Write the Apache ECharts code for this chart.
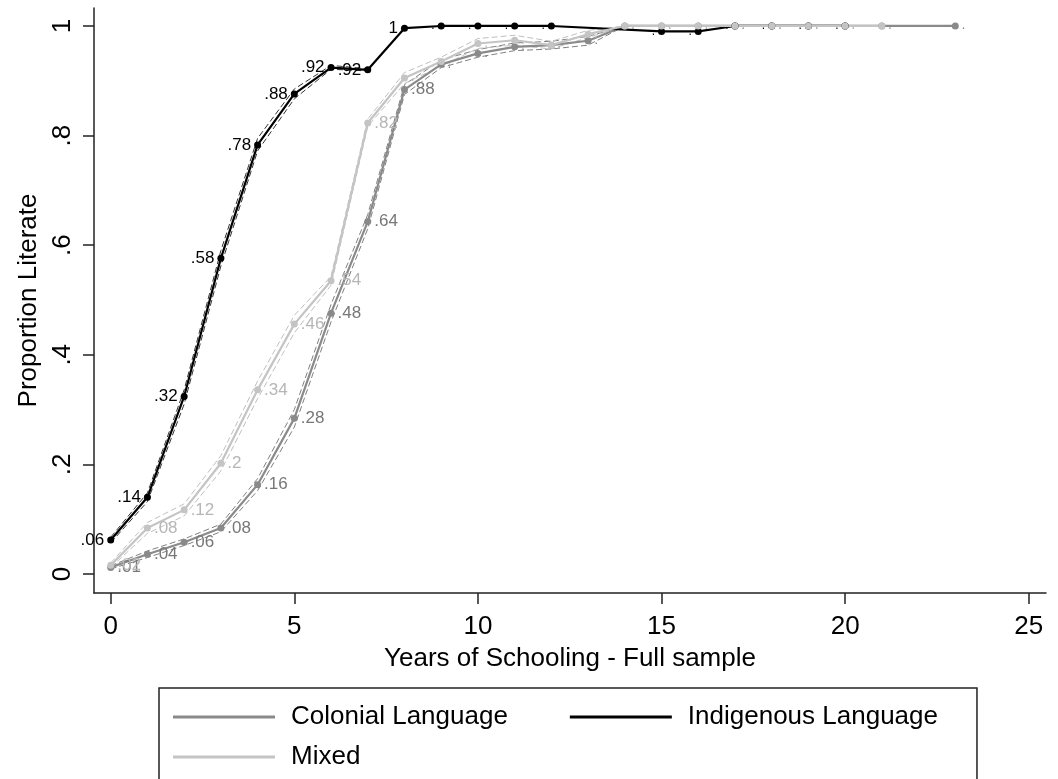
<!DOCTYPE html>
<html>
<head>
<meta charset="utf-8">
<script src="https://cdn.jsdelivr.net/npm/echarts@6/dist/echarts.min.js"></script>
<style>
html,body{margin:0;padding:0;background:#fff;}
#chart{width:1058px;height:779px;}
</style>
</head>
<body>
<div id="chart"></div>
<script>
// ---- data ----
const years = [0,1,2,3,4,5,6,7,8,9,10,11,12,13,14,15,16,17,18,19,20,21,22,23];
const colonial   = [0.012,0.036,0.058,0.084,0.163,0.284,0.476,0.643,0.884,0.93,0.95,0.962,0.965,0.973,1,1,1,1,1,1,1,1,null,1];
const indigenous = [0.062,0.14,0.324,0.576,0.783,0.876,0.924,0.92,0.996,1,1,1,1,null,null,0.99,0.99,1,1,1,1,null,null,null];
const mixed      = [0.016,0.084,0.117,0.202,0.336,0.456,0.535,0.823,0.905,0.935,0.968,0.974,0.965,0.985,1,1,1,1,1,1,1,1,null,null];
// confidence bands (dashed)
const colonialLo   = [0.009,0.03,0.052,0.077,0.152,0.268,0.46,0.63,0.875,0.924,0.943,0.955,0.958,0.965,1];
const colonialHi   = [0.015,0.042,0.064,0.091,0.174,0.3,0.492,0.656,0.893,0.938,0.957,0.969,0.972,0.981,1];
const indigenousLo = [0.057,0.132,0.31,0.562,0.772,0.867,0.921,0.918];
const indigenousHi = [0.067,0.148,0.336,0.59,0.795,0.885,0.928,0.922];
const mixedLo      = [0.012,0.074,0.106,0.188,0.32,0.44,0.527,0.817,0.895,0.927,0.959,0.965,0.958,0.979,1];
const mixedHi      = [0.02,0.094,0.128,0.216,0.352,0.472,0.543,0.83,0.915,0.943,0.977,0.983,0.972,0.992,1];
const xTicks = [0,5,10,15,20,25];
const yTicks = [0,0.2,0.4,0.6,0.8,1];
const seriesNames = ['Colonial Language','Indigenous Language','Mixed'];

// ---- helpers ----
function pairs(arr){ const out=[]; arr.forEach((v,i)=>{ if(v!==null && v!==undefined) out.push([years[i],v]); }); return out; }
function fmt(v){ let s=(Math.round(v*100)/100).toString(); if(s.indexOf('0.')===0) s=s.slice(1); return s; }

const FONT='Liberation Sans, Arial, sans-serif';
const C_COL='#8a8a8a', C_IND='#000000', C_MIX='#c4c4c4';
const L_COL='#777777', L_IND='#000000', L_MIX='#b6b6b6';

function mainSeries(name, arr, color, labelColor, pos, dotFrom){
  return {
    name:name, type:'line', data:pairs(arr), color:color,
    symbol:'circle', symbolSize:7, connectNulls:true,
    lineStyle:{width:2.2,color:color}, itemStyle:{color:color},
    label:{show:true, position:pos, distance:3, fontSize:17, fontFamily:FONT,
      color:labelColor,
      formatter:function(p){ if(p.value[0]>=dotFrom) return '{d|.}'; return fmt(p.value[1]); },
      rich:{d:{fontSize:12,color:labelColor,fontFamily:FONT}}},
    emphasis:{disabled:true}, animation:false, z:3
  };
}
function ciSeries(arr, color){
  return { type:'line', data:pairs(arr), symbol:'none', silent:true, animation:false,
    lineStyle:{width:1,color:color,type:[6,3]}, z:2, emphasis:{disabled:true}, tooltip:{show:false} };
}

const chart = echarts.init(document.getElementById('chart'), null, {renderer:'canvas'});
const axisCol = '#222';
chart.setOption({
  backgroundColor:'#ffffff',
  animation:false,
  textStyle:{fontFamily:FONT},
  grid:{left:94,right:12,top:8,bottom:186,containLabel:false,outerBoundsMode:'none'},
  xAxis:{
    type:'value', min:-0.455, max:25.47,
    axisLine:{show:true,onZero:false,lineStyle:{color:axisCol,width:1.5}},
    axisTick:{show:true,length:11,lineStyle:{color:axisCol,width:1.5},customValues:xTicks},
    axisLabel:{show:true,customValues:xTicks,fontSize:26,color:'#000',margin:21,
      fontFamily:FONT,formatter:v=>String(v)},
    splitLine:{show:false},
    name:'Years of Schooling - Full sample', nameLocation:'middle', nameGap:53,
    nameTextStyle:{fontSize:26,color:'#000',fontFamily:FONT}
  },
  yAxis:{
    type:'value', min:-0.0347, max:1.0328,
    axisLine:{show:true,onZero:false,lineStyle:{color:axisCol,width:1.5}},
    axisTick:{show:true,length:11,lineStyle:{color:axisCol,width:1.5},customValues:yTicks},
    axisLabel:{show:true,customValues:yTicks,rotate:90,fontSize:26,color:'#000',margin:18,
      fontFamily:FONT,formatter:v=>fmt(v)},
    splitLine:{show:false},
    name:'Proportion Literate', nameLocation:'middle', nameGap:46, nameRotate:90,
    nameTextStyle:{fontSize:26,color:'#000',fontFamily:FONT}
  },
  legend:[{
    data:[seriesNames[0],seriesNames[1]], left:159, top:688, orient:'horizontal',
    padding:[16,39,140,14], borderColor:'#222', borderWidth:1.5,
    icon:'rect', itemWidth:102, itemHeight:3, itemGap:62, selectedMode:false,
    textStyle:{fontSize:26,color:'#000',padding:[0,0,0,11],fontFamily:FONT}
  },{
    data:[seriesNames[2]], left:159, top:744, orient:'horizontal',
    padding:[0,0,0,14], borderWidth:0,
    icon:'rect', itemWidth:102, itemHeight:3, selectedMode:false,
    textStyle:{fontSize:26,color:'#000',padding:[0,0,0,11],fontFamily:FONT}
  }],
  series:[
    ciSeries(colonialLo,'#808080'), ciSeries(colonialHi,'#808080'),
    ciSeries(indigenousLo,'#333333'), ciSeries(indigenousHi,'#333333'),
    ciSeries(mixedLo,'#c0c0c0'), ciSeries(mixedHi,'#c0c0c0'),
    mainSeries(seriesNames[0], colonial, C_COL, L_COL, 'right', 9),
    mainSeries(seriesNames[1], indigenous, C_IND, L_IND, 'left', 9),
    mainSeries(seriesNames[2], mixed, C_MIX, L_MIX, 'right', 8)
  ]
});
</script>
</body>
</html>
